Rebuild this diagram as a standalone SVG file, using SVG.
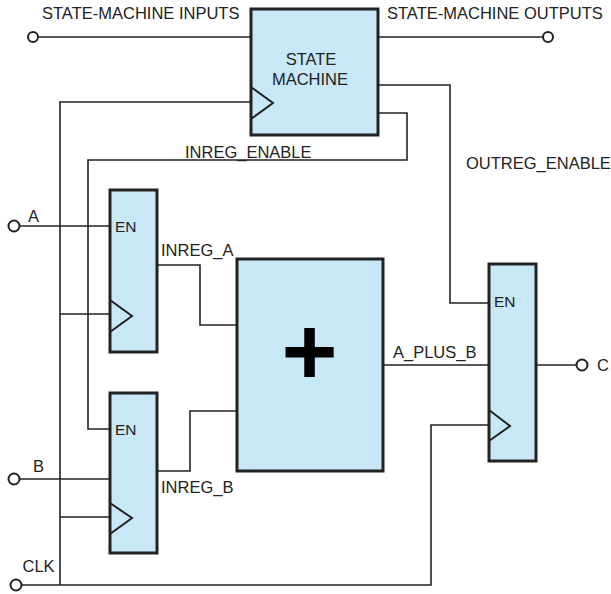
<svg xmlns="http://www.w3.org/2000/svg" width="611" height="594" viewBox="0 0 611 594">
<style>
.box{fill:#c8e8f8;stroke:#222;stroke-width:3}
.w{fill:none;stroke:#222;stroke-width:1.6}
.clk{fill:none;stroke:#222;stroke-width:2}
.pin{fill:#fff;stroke:#222;stroke-width:2}
text{font-family:"Liberation Sans",Arial,sans-serif;font-size:16.5px;fill:#222}
text.en{font-size:15.5px}
text.plus{font-size:96px;font-weight:bold;fill:#000}
</style>
<g id="connectors">
<path class="w" d="M38 37H251"/>
<path class="w" d="M378 37H543"/>
<path class="w" d="M378 85H450V303H489"/>
<path class="w" d="M378 113H407V160H88V429H110"/>
<path class="w" d="M251 102H60V585"/>
<path class="w" d="M60 314H110"/>
<path class="w" d="M60 517H110"/>
<path class="w" d="M21 585H431V425H489"/>
<path class="w" d="M19.5 226H110"/>
<path class="w" d="M19.5 479H110"/>
<path class="w" d="M157 265H200V325H237"/>
<path class="w" d="M157 471H190V411H237"/>
<path class="w" d="M383 365H489"/>
<path class="w" d="M536 365H577"/>
</g>
<g id="pins">
<circle class="pin" cx="33" cy="37" r="5"/>
<circle class="pin" cx="548" cy="37" r="5"/>
<circle class="pin" cx="14" cy="226" r="5.5"/>
<circle class="pin" cx="14" cy="479" r="5.5"/>
<circle class="pin" cx="16" cy="585" r="5.5"/>
<circle class="pin" cx="582" cy="365" r="5.5"/>
</g>
<g id="state-machine">
<rect class="box" x="251" y="9" width="127" height="126"/>
<polyline class="clk" points="251,87 273,103 251,119"/>
<text x="311" y="65" text-anchor="middle">STATE</text>
<text x="310" y="85" text-anchor="middle">MACHINE</text>
</g>
<g id="inreg-a">
<rect class="box" x="110" y="190" width="47" height="162"/>
<polyline class="clk" points="110,300 132,316 110,332"/>
<text class="en" x="115" y="232">EN</text>
</g>
<g id="inreg-b">
<rect class="box" x="110" y="393" width="47" height="160"/>
<polyline class="clk" points="110,503 132,518 110,534"/>
<text class="en" x="115" y="435">EN</text>
</g>
<g id="adder">
<rect class="box" x="237" y="259" width="146" height="212"/>
<text class="plus" x="309.5" y="385" text-anchor="middle">+</text>
</g>
<g id="outreg">
<rect class="box" x="489" y="264" width="47" height="197"/>
<polyline class="clk" points="489,410 510,426 489,441"/>
<text class="en" x="494" y="307">EN</text>
</g>
<g id="labels">
<text x="42" y="19">STATE-MACHINE INPUTS</text>
<text x="387" y="18.5">STATE-MACHINE OUTPUTS</text>
<text x="185" y="157.5">INREG_ENABLE</text>
<text x="466" y="168.5">OUTREG_ENABLE</text>
<text x="161" y="256">INREG_A</text>
<text x="161" y="493">INREG_B</text>
<text x="393" y="358">A_PLUS_B</text>
<text x="597" y="371">C</text>
<text x="28" y="221.5">A</text>
<text x="33" y="472">B</text>
<text x="22.5" y="572">CLK</text>
</g>
</svg>
